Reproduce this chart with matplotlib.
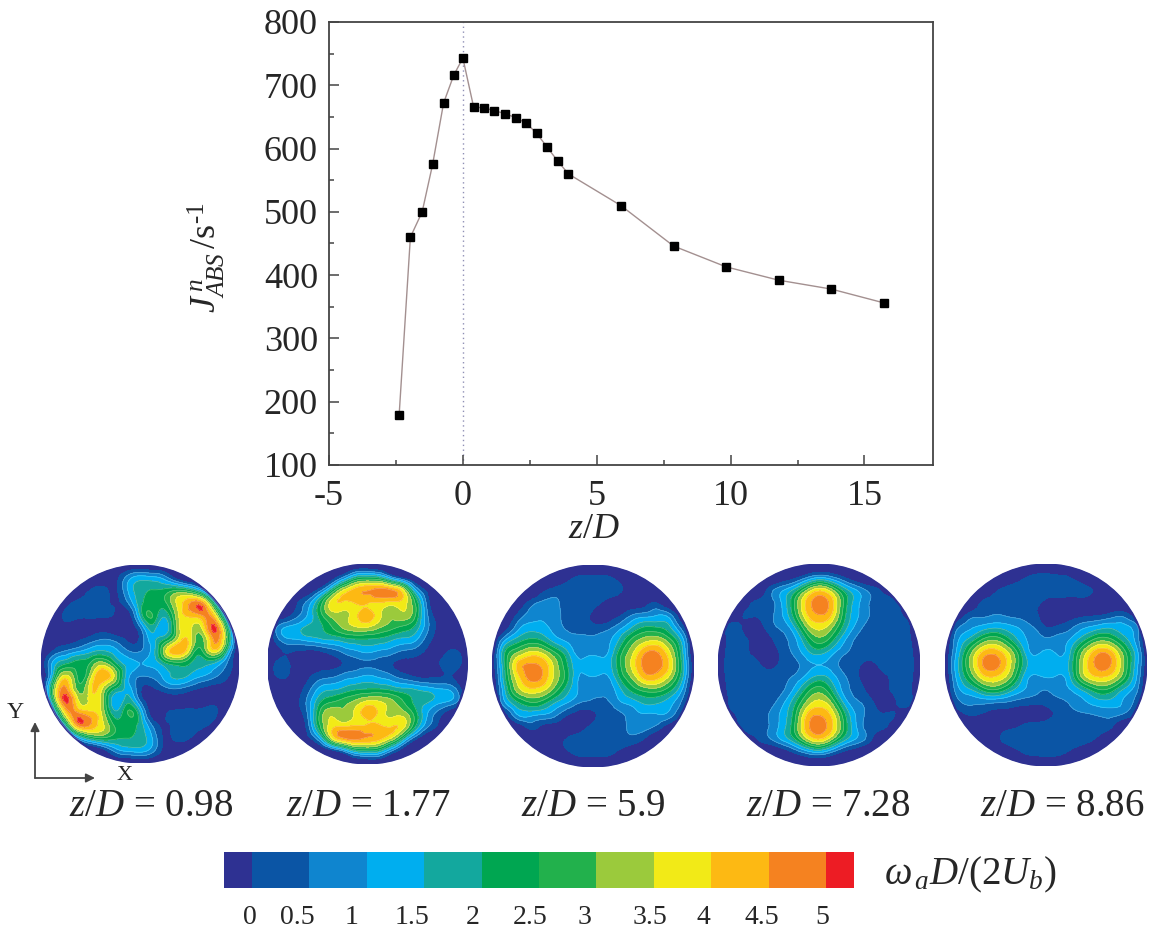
import numpy as np
import matplotlib
matplotlib.use("Agg")
import matplotlib.pyplot as plt
import matplotlib.tri as mtri
from matplotlib.patches import Circle

plt.rcParams["font.family"] = ["Liberation Serif", "DejaVu Serif"]
plt.rcParams["mathtext.fontset"] = "custom"
plt.rcParams["mathtext.rm"] = "Liberation Serif"
plt.rcParams["mathtext.it"] = "Liberation Serif:italic"
plt.rcParams["mathtext.bf"] = "Liberation Serif:bold"
plt.rcParams["axes.unicode_minus"] = False

W, H = 1155, 932
TEXT = "#262626"

# top chart
z_d = [-2.38, -1.96, -1.52, -1.13, -0.72, -0.34, 0.0, 0.4, 0.79, 1.18, 1.58, 1.97, 2.37,
       2.76, 3.15, 3.55, 3.94, 5.9, 7.87, 9.84, 11.8, 13.76, 15.74]
j_abs = [179, 460, 500, 575, 672, 716, 743, 666, 664, 660, 655, 649, 640,
         624, 602, 580, 560, 510, 446, 413, 392, 378, 356]

# colour bar
levels = [-0.243, 0, 0.5, 1, 1.5, 2, 2.5, 3, 3.5, 4, 4.5, 5, 5.243]
band_colors = ["#2e3192", "#0b55a5", "#0f85cf", "#00aeef", "#13a89e", "#00a651",
               "#22b14c", "#9bca3c", "#f2ea17", "#fdb913", "#f58220", "#ed1c24"]
bar_labels = ["0", "0.5", "1", "1.5", "2", "2.5", "3", "3.5", "4", "4.5", "5"]
bar_label_px = [250, 297, 352, 412, 473, 530, 585, 650, 703, 762, 822]

# vorticity read by eye on a 17x17 grid over each circle, in tenths, top row first
p1 = [
    [-9]*17,
    [-9,-9,-9,-9,-9,-7,-3,7,12,11,7,-3,-9,-9,-9,-9,-9],
    [-9,-9,-9,-5,0,2,-1,10,18,20,21,24,20,8,-6,-9,-9],
    [-9,-9,-3,1,2,2,-1,5,18,21,24,36,44,44,15,-6,-9],
    [-9,-5,1,1,1,1,-1,-3,16,25,17,33,42,46,38,6,-9],
    [-9,-3,-2,-2,-2,-2,-3,-3,5,18,11,31,37,36,51,22,-9],
    [-9,-3,-3,-1,2,5,3,-1,1,13,20,34,38,28,46,28,-9],
    [-9,1,6,10,14,16,12,6,5,12,33,44,33,24,37,17,-9],
    [-5,12,20,22,26,33,22,13,10,11,18,22,20,16,14,5,-5],
    [-9,17,37,24,33,44,33,12,5,6,12,16,14,10,6,1,-9],
    [-9,28,46,28,38,34,20,13,1,-1,3,5,2,-1,-3,-3,-9],
    [-9,22,51,36,37,31,11,18,5,-3,-3,-2,-2,-2,-2,-3,-9],
    [-9,6,38,46,42,33,17,25,16,-3,-1,1,1,1,1,-5,-9],
    [-9,-6,15,44,44,36,24,21,18,5,-1,2,2,1,-3,-9,-9],
    [-9,-9,-6,8,20,24,21,20,18,10,-1,2,0,-5,-9,-9,-9],
    [-9,-9,-9,-9,-9,-3,7,11,12,7,-3,-7,-9,-9,-9,-9,-9],
    [-9]*17,
]
p2 = [
    [-9]*17,
    [-9,-9,-9,-9,-9,-6,3,15,18,15,3,-5,-9,-9,-9,-9,-9],
    [-9,-9,-9,-9,-1,14,32,41,44,46,43,30,6,-4,-9,-9,-9],
    [-9,-9,-4,4,17,35,40,41,41,41,40,37,20,-1,-7,-9,-9],
    [-9,-7,0,8,20,32,34,38,42,36,31,34,22,2,-4,-9,-9],
    [-9,7,11,15,18,24,31,35,36,31,27,24,17,4,-3,-8,-9],
    [-9,6,10,12,14,16,18,20,20,19,16,14,10,1,-3,-6,-9],
    [-8,-1,0,-1,-1,2,6,9,11,9,7,4,2,-2,-2,1,-7],
    [-5,2,-1,-2,-3,-2,0,3,4,3,0,-2,-3,-2,1,3,-5],
    [-7,1,-2,-2,2,4,7,9,11,9,6,2,-1,-1,0,-1,-8],
    [-9,-6,-3,1,10,14,16,19,20,20,18,16,14,12,10,6,-9],
    [-9,-8,-3,4,17,24,27,31,36,35,31,24,18,15,11,7,-9],
    [-9,-9,-4,2,22,34,31,36,42,38,34,32,20,8,0,-7,-9],
    [-9,-9,-7,-1,20,37,40,41,41,41,40,35,17,4,-4,-9,-9],
    [-9,-9,-9,-4,6,30,43,46,44,41,32,14,-1,-9,-9,-9,-9],
    [-9,-9,-9,-9,-9,-5,3,15,18,15,3,-6,-9,-9,-9,-9,-9],
    [-9]*17,
]
p3 = [
    [-9]*17,
    [-9,-9,-9,-9,-9,-6,-2,1,1,1,-2,-6,-9,-9,-9,-9,-9],
    [-9,-9,-9,-9,-2,2,3,3,3,2,1,-2,-5,-8,-9,-9,-9],
    [-9,-9,-6,2,6,6,3,3,2,-1,-3,-4,-3,0,-7,-9,-9],
    [-9,-7,1,7,9,7,3,2,-1,-3,-1,5,8,10,8,-5,-9],
    [-9,-3,8,13,12,8,4,3,2,3,8,15,21,21,17,4,-9],
    [-9,10,18,22,20,13,9,6,6,8,15,26,33,35,28,14,-9],
    [-8,20,31,37,35,26,16,8,9,9,21,33,44,46,37,18,-9],
    [-5,20,41,46,44,33,20,11,13,12,22,35,46,47,40,20,-5],
    [-9,18,37,46,44,33,21,9,9,8,18,29,40,41,33,17,-8],
    [-9,14,31,37,35,26,16,9,6,6,12,20,25,26,21,10,-9],
    [-9,8,18,23,21,14,9,4,3,3,8,11,15,15,12,4,-9],
    [-9,-5,8,10,8,5,-1,-3,-1,2,3,7,9,9,7,-2,-9],
    [-9,-9,-7,0,-3,-4,-3,-1,2,3,3,6,6,2,-6,-9,-9],
    [-9,-9,-9,-8,-5,-2,1,2,3,3,3,2,-2,-9,-9,-9,-9],
    [-9,-9,-9,-9,-9,-6,-2,1,1,1,-2,-6,-9,-9,-9,-9,-9],
    [-9]*17,
]
p4 = [
    [-9]*17,
    [-9,-9,-9,-9,-9,-7,-3,3,8,5,-1,-7,-9,-9,-9,-9,-9],
    [-9,-9,-9,-9,1,8,15,28,37,30,17,9,3,-2,-9,-9,-9],
    [-9,-9,-5,1,3,10,24,41,47,42,24,12,5,3,1,-9,-9],
    [-9,-6,0,1,3,9,22,39,45,40,22,11,5,3,3,-3,-9],
    [-9,2,-1,-3,2,6,14,30,37,31,18,8,3,3,3,1,-9],
    [-9,3,2,-3,-2,3,8,20,28,22,11,4,3,3,3,2,-9],
    [-8,3,2,-2,-4,1,6,13,17,12,6,3,3,3,3,3,-8],
    [-5,3,3,2,-2,1,3,8,10,8,3,1,-2,2,3,3,-5],
    [-8,3,3,3,3,3,6,12,17,13,6,1,-4,-2,2,3,-8],
    [-9,2,3,3,3,4,11,22,28,20,8,3,-2,-3,2,3,-9],
    [-9,1,3,3,3,8,18,31,37,30,14,6,2,-3,-1,2,-9],
    [-9,-3,3,3,5,11,22,40,45,39,22,9,3,1,0,-6,-9],
    [-9,-9,1,3,5,12,24,42,47,41,24,10,3,1,-5,-9,-9],
    [-9,-9,-9,-2,3,9,17,30,37,28,15,8,1,-9,-9,-9,-9],
    [-9,-9,-9,-9,-9,-7,-1,5,8,3,-3,-7,-9,-9,-9,-9,-9],
    [-9]*17,
]
p5 = [
    [-9]*17,
    [-9,-9,-9,-9,-9,-6,-2,1,2,1,-1,-6,-9,-9,-9,-9,-9],
    [-9,-9,-9,-9,-2,2,3,3,3,3,3,2,-2,-8,-9,-9,-9],
    [-9,-9,-7,1,3,3,3,2,-1,-2,-3,-3,-4,-5,-7,-9,-9],
    [-9,-5,2,4,5,4,3,1,-2,-3,-3,-2,-1,1,3,-3,-9],
    [-9,4,9,12,14,12,9,5,0,1,4,9,12,14,12,8,-9],
    [-9,9,17,26,29,22,13,8,6,7,11,19,27,27,19,10,-9],
    [-7,12,28,41,43,35,20,9,11,9,16,32,43,43,30,15,-7],
    [-5,14,31,45,47,38,22,12,13,12,18,36,46,46,33,15,-5],
    [-8,12,25,37,39,32,17,9,10,9,16,32,39,38,28,13,-8],
    [-9,8,14,21,24,18,11,7,5,7,10,16,23,23,15,8,-9],
    [-9,3,6,6,5,4,2,1,1,3,6,9,12,13,10,4,-9],
    [-9,-4,0,-1,-2,-3,-3,-2,-1,1,3,4,5,6,4,-1,-9],
    [-9,-9,-7,-5,-3,-1,1,2,2,3,3,3,3,1,-7,-9,-9],
    [-9,-9,-9,-8,-3,2,3,3,3,3,3,2,-2,-8,-9,-9,-9],
    [-9,-9,-9,-9,-9,-6,-1,1,2,1,-2,-6,-9,-9,-9,-9,-9],
    [-9]*17,
]
panels = [p1, p2, p3, p4, p5]
panel_cx = [140, 367.5, 593, 819, 1046]
panel_cy = [664, 664, 666, 665, 665]
panel_r = [99, 100, 101, 101, 101]
panel_labels = ["0.98", "1.77", "5.9", "7.28", "8.86"]
panel_label_x = [151, 368, 593, 828, 1062]


def px_axes(left, top, right, bottom):
    return fig.add_axes([left / W, 1 - bottom / H, (right - left) / W, (bottom - top) / H])


fig = plt.figure(figsize=(W / 100, H / 100), dpi=100, facecolor="white")

# line chart
ax = px_axes(329, 22, 933, 465)
ax.plot(z_d, j_abs, color="#a39090", lw=1, marker="s", ms=5.6, mfc="black", mec="black", zorder=3)
ax.axvline(0, color="#8f8fb5", lw=1, ls=(0, (1, 2.5)), zorder=1)
ax.set_xlim(-5, 17.56)
ax.set_ylim(100, 800)
ax.set_xticks([-5, 0, 5, 10, 15])
ax.set_xticks([-2.5, 2.5, 7.5, 12.5], minor=True)
ax.set_yticks(range(100, 801, 100))
ax.set_yticks(range(150, 800, 100), minor=True)
ax.tick_params(which="major", direction="in", length=7, width=1.1, color="#444444",
               labelsize=26, labelcolor=TEXT, pad=8)
ax.tick_params(axis="x", which="major", pad=11)
ax.tick_params(which="minor", direction="in", length=3.6, width=1.1, color="#444444")
for s in ax.spines.values():
    s.set_linewidth(1.3)
    s.set_color("#444444")
fig.text(594 / W, 1 - 530 / H, r"$z/D$", fontsize=26, color=TEXT, ha="center", va="center")
fig.text(206 / W, 1 - 258 / H, r"$J^{\,n}_{ABS}\,$/s$^{\text{-}1}$", fontsize=26, color=TEXT,
         rotation=90, ha="center", va="center")

# contour circles
x_grid, y_grid = np.meshgrid(np.linspace(-1, 1, 17), np.linspace(1, -1, 17))
tri = mtri.Triangulation(x_grid.ravel(), y_grid.ravel())
refiner = mtri.UniformTriRefiner(tri)
fill_levels = [-100] + levels[1:-1] + [100]

for grid, cx, cy, r, lab, lx in zip(panels, panel_cx, panel_cy, panel_r, panel_labels, panel_label_x):
    a = px_axes(cx - r, cy - r, cx + r, cy + r)
    a.set_xlim(-1, 1)
    a.set_ylim(-1, 1)
    a.axis("off")
    vals = np.array(grid, dtype=float).ravel() / 10
    interp = mtri.CubicTriInterpolator(tri, vals)
    fine_tri, fine_vals = refiner.refine_field(vals, triinterpolator=interp, subdiv=3)
    clip = Circle((0, 0), 1, transform=a.transData)
    cs = a.tricontourf(fine_tri, fine_vals, levels=fill_levels, colors=band_colors)
    cs.set_clip_path(clip)
    # pale outlines between the bands
    ls = a.tricontour(fine_tri, fine_vals, levels=levels[2:-1], colors="white", linewidths=0.5, alpha=0.3)
    ls.set_clip_path(clip)
    a.add_patch(Circle((0, 0), 0.995, fc="none", ec="#2e3192", lw=1.5))
    fig.text(lx / W, 1 - 807 / H, rf"$z/D$ = {lab}", fontsize=28, color=TEXT, ha="center", va="center")

# XY arrows
overlay = fig.add_axes([0, 0, 1, 1], facecolor="none")
overlay.set_xlim(0, W)
overlay.set_ylim(H, 0)
overlay.axis("off")
arrow = dict(arrowstyle="-|>", color="#444444", lw=1.3, mutation_scale=13, shrinkA=0, shrinkB=0)
overlay.annotate("", xy=(35, 722), xytext=(35, 778), arrowprops=arrow)
overlay.annotate("", xy=(95, 778), xytext=(35, 778), arrowprops=arrow)
overlay.text(15, 712, "Y", fontsize=17, color=TEXT, ha="center", va="center")
overlay.text(125, 776, "X", fontsize=16, color=TEXT, ha="center", va="center")

# colour bar
cax = px_axes(224, 852, 854, 888)
cax.pcolormesh(levels, [0, 1], [list(range(12))], cmap=matplotlib.colors.ListedColormap(band_colors),
               vmin=-0.5, vmax=11.5)
cax.axis("off")
for lab, lx in zip(bar_labels, bar_label_px):
    fig.text(lx / W, 1 - 917 / H, lab, fontsize=20, color=TEXT, ha="center", va="center")
fig.text(970 / W, 1 - 875 / H, r"$\omega_{\,a}D/(2U_b)$", fontsize=28, color=TEXT, ha="center", va="center")

fig.savefig("out.png", dpi=100)
